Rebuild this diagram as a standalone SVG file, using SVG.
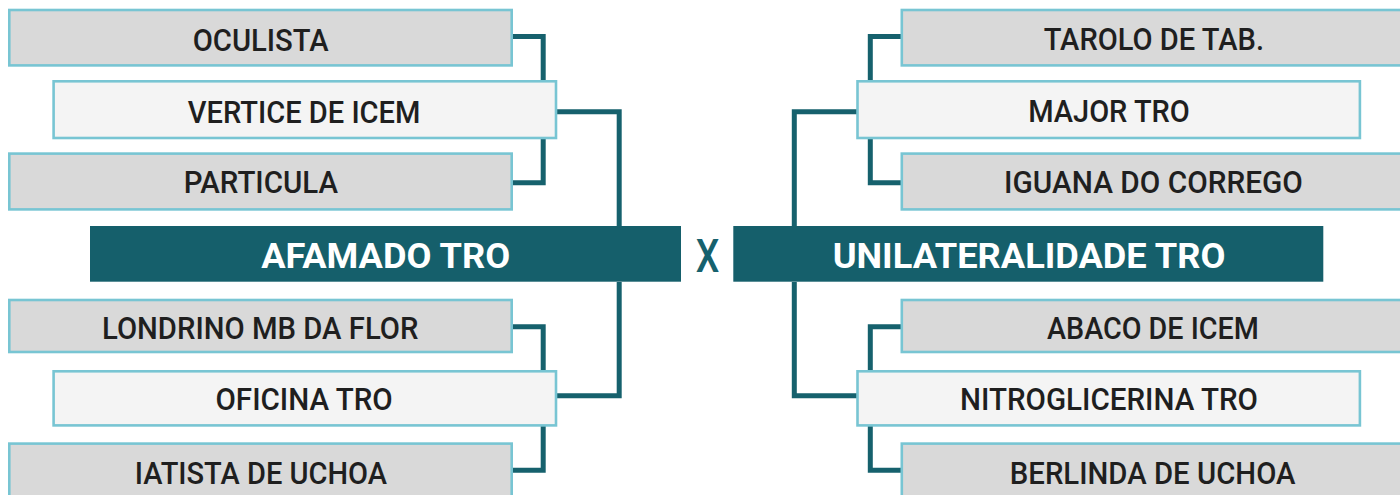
<svg xmlns="http://www.w3.org/2000/svg" width="1400" height="495" viewBox="0 0 1400 495">
<style>
.conn{fill:none;stroke:#16616d;stroke-width:5;stroke-linejoin:miter;stroke-linecap:butt}
.box{stroke:#78c5d3;stroke-width:2.6}
.g{fill:#d9d9d9}
.w{fill:#f4f4f4}
.lbl{font-family:Roboto,"Liberation Sans",sans-serif;font-size:31px;font-weight:500;fill:#1f1f1f}
.bar{fill:#155f6b}
.btxt{font-family:Roboto,"Liberation Sans",sans-serif;font-size:35px;font-weight:700;fill:#ffffff}
.vs{font-family:Roboto,"Liberation Sans",sans-serif;font-size:46px;font-weight:500;fill:#16616d}
</style>
<rect width="1400" height="495" fill="#ffffff"/>
<g id="connectors">
<path class="conn" d="M512,36.5 H543.2 V81"/>
<path class="conn" d="M543.2,138 V182.7 H512"/>
<path class="conn" d="M556,111.7 H619.2 V226"/>
<path class="conn" d="M619.2,282 V395.8 H556"/>
<path class="conn" d="M512,326.8 H543.2 V371"/>
<path class="conn" d="M543.2,425 V470.2 H512"/>
<path class="conn" d="M901.5,36.5 H870.3 V81"/>
<path class="conn" d="M870.3,138 V182.7 H901.5"/>
<path class="conn" d="M857.5,111.7 H794.3 V226"/>
<path class="conn" d="M794.3,282 V395.8 H857.5"/>
<path class="conn" d="M901.5,326.8 H870.3 V371"/>
<path class="conn" d="M870.3,425 V470.2 H901.5"/>
</g>
<g id="oculista"><rect class="box g" x="9.3" y="10" width="502.4" height="55.4"/><text class="lbl" x="192.7" y="50.7" textLength="136" lengthAdjust="spacingAndGlyphs">OCULISTA</text></g>
<g id="vertice"><rect class="box w" x="53.6" y="81.3" width="502.4" height="56.7"/><text class="lbl" x="187.8" y="122.7" textLength="232.6" lengthAdjust="spacingAndGlyphs">VERTICE DE ICEM</text></g>
<g id="particula"><rect class="box g" x="9.3" y="153.6" width="502.4" height="55.8"/><text class="lbl" x="183.7" y="193.3" textLength="154.3" lengthAdjust="spacingAndGlyphs">PARTICULA</text></g>
<g id="londrino"><rect class="box g" x="9.3" y="300" width="502.4" height="52"/><text class="lbl" x="102" y="339.3" textLength="316.4" lengthAdjust="spacingAndGlyphs">LONDRINO MB DA FLOR</text></g>
<g id="oficina"><rect class="box w" x="53.6" y="371.3" width="502.4" height="54.1"/><text class="lbl" x="215.5" y="410" textLength="177.2" lengthAdjust="spacingAndGlyphs">OFICINA TRO</text></g>
<g id="iatista"><rect class="box g" x="9.3" y="443.6" width="502.4" height="56"/><text class="lbl" x="134.7" y="484" textLength="252.3" lengthAdjust="spacingAndGlyphs">IATISTA DE UCHOA</text></g>
<g id="afamado"><rect class="bar" x="90" y="226" width="591" height="55.7"/><text class="btxt" x="261.2" y="268.3" textLength="249" lengthAdjust="spacingAndGlyphs">AFAMADO TRO</text></g>
<g id="versus"><text class="vs" x="695.7" y="271.7" textLength="23.6" lengthAdjust="spacingAndGlyphs">X</text></g>
<g id="unilateralidade"><rect class="bar" x="733.3" y="226" width="590" height="55.7"/><text class="btxt" x="832.7" y="268.3" textLength="392.7" lengthAdjust="spacingAndGlyphs">UNILATERALIDADE TRO</text></g>
<g id="tarolo"><rect class="box g" x="901.8" y="10" width="502.4" height="55.4"/><text class="lbl" x="1043.7" y="49.5" textLength="220.3" lengthAdjust="spacingAndGlyphs">TAROLO DE TAB.</text></g>
<g id="major"><rect class="box w" x="857.5" y="81.3" width="502.4" height="56.7"/><text class="lbl" x="1028.2" y="121.7" textLength="161.6" lengthAdjust="spacingAndGlyphs">MAJOR TRO</text></g>
<g id="iguana"><rect class="box g" x="901.8" y="153.6" width="502.4" height="55.8"/><text class="lbl" x="1004.1" y="192.7" textLength="298.8" lengthAdjust="spacingAndGlyphs">IGUANA DO CORREGO</text></g>
<g id="abaco"><rect class="box g" x="901.8" y="300" width="502.4" height="52"/><text class="lbl" x="1047" y="339.3" textLength="211.8" lengthAdjust="spacingAndGlyphs">ABACO DE ICEM</text></g>
<g id="nitroglicerina"><rect class="box w" x="857.5" y="371.3" width="502.4" height="54.1"/><text class="lbl" x="960" y="410" textLength="298" lengthAdjust="spacingAndGlyphs">NITROGLICERINA TRO</text></g>
<g id="berlinda"><rect class="box g" x="901.8" y="443.6" width="502.4" height="56"/><text class="lbl" x="1009.8" y="484" textLength="285.7" lengthAdjust="spacingAndGlyphs">BERLINDA DE UCHOA</text></g>
</svg>
